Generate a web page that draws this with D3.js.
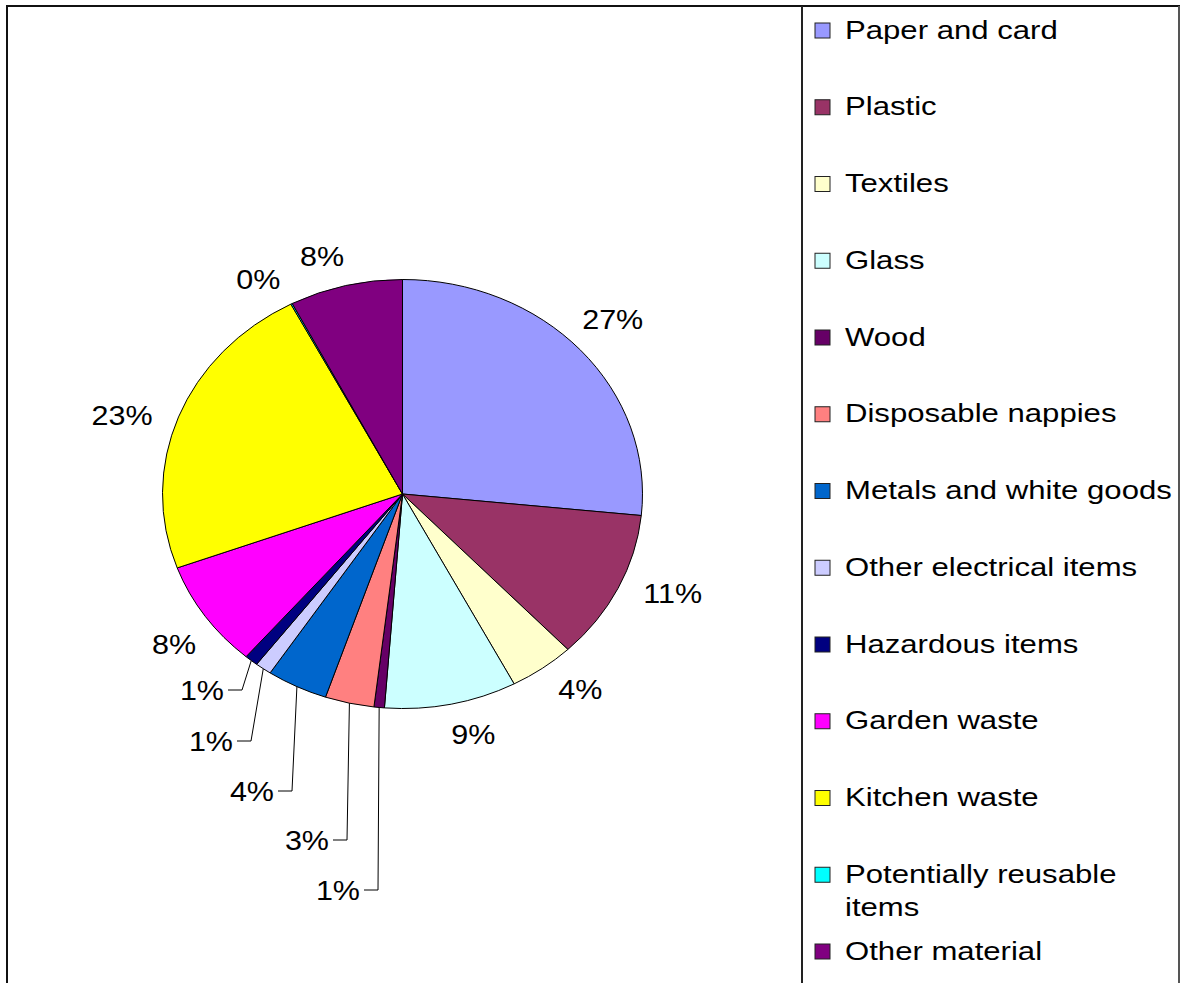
<!DOCTYPE html>
<html>
<head>
<meta charset="utf-8">
<script src="https://cdn.jsdelivr.net/npm/d3@7"></script>
<style>
  html, body { margin: 0; padding: 0; background: #fff; }
  svg { display: block; }
  text { font-family: "Liberation Sans", Arial, Helvetica, sans-serif; fill: #000; }
</style>
</head>
<body>
<svg id="chart" width="1187" height="983"></svg>
<script>
// Household waste composition (share of total, %)
const categories = [
  "Paper and card", "Plastic", "Textiles", "Glass", "Wood",
  "Disposable nappies", "Metals and white goods", "Other electrical items",
  "Hazardous items", "Garden waste", "Kitchen waste",
  "Potentially reusable items", "Other material"
];
const shares = [26.6, 11.3, 4.4, 8.9, 0.7, 3.3, 4.1, 1.1, 0.9, 8.1, 22.9, 0.1, 7.6];
const colours = [
  "#9999FF", "#993366", "#FFFFCC", "#CCFFFF", "#660066",
  "#FF8080", "#0066CC", "#CCCCFF", "#000080", "#FF00FF",
  "#FFFF00", "#00FFFF", "#800080"
];

// Small slices whose labels sit below the pie on leader lines:
// slice index -> elbow x and label row y
const leaderLayout = new Map([
  [4, { elbowX: 378, rowY: 890 }],
  [5, { elbowX: 347, rowY: 840 }],
  [6, { elbowX: 292, rowY: 791 }],
  [7, { elbowX: 251, rowY: 741 }],
  [8, { elbowX: 242, rowY: 690 }]
]);

const W = 1187, H = 983;
const svg = d3.select("#chart");
svg.append("rect").attr("width", W).attr("height", H).attr("fill", "#fff");

// Chart frame and legend divider
const frameL = 7, frameT = 6, frameR = 1179, divX = 802;
svg.append("line").attr("x1", frameL - 1).attr("x2", frameR + 1).attr("y1", frameT).attr("y2", frameT)
  .attr("stroke", "#111").attr("stroke-width", 2);
svg.append("line").attr("x1", frameL).attr("x2", frameL).attr("y1", frameT).attr("y2", H)
  .attr("stroke", "#111").attr("stroke-width", 2);
svg.append("line").attr("x1", frameR).attr("x2", frameR).attr("y1", frameT).attr("y2", H)
  .attr("stroke", "#555").attr("stroke-width", 2);
svg.append("line").attr("x1", divX).attr("x2", divX).attr("y1", frameT).attr("y2", H)
  .attr("stroke", "#222").attr("stroke-width", 2);

// Pie drawn as a circle then stretched horizontally into an ellipse
const cx = 402.5, cy = 494, ry = 214.5, rx = 240;
const sx = rx / ry;
const total = d3.sum(shares);
const data = categories.map((c, i) => ({ name: c, value: shares[i], colour: colours[i], index: i }));
const arcs = d3.pie().sort(null).value(d => d.value)(data);
const arc = d3.arc().innerRadius(0).outerRadius(ry);

const pieG = svg.append("g").attr("transform", `translate(${cx},${cy}) scale(${sx},1)`);
pieG.selectAll("path").data(arcs).join("path")
  .attr("d", arc)
  .attr("fill", d => d.data.colour)
  .attr("stroke", "#000")
  .attr("stroke-width", 1)
  .attr("stroke-linejoin", "round")
  .attr("vector-effect", "non-scaling-stroke");

// Percentage labels: the label box touches a point just outside the rim
const pct = d3.format(".0%");
const labelFont = 27.5, labelStretch = 1.11;
const labelR = 237, labelTurn = -0.045, boxH = 22;
const ellipsePoint = (ang, r) => [cx + r * sx * Math.sin(ang), cy - r * Math.cos(ang)];

const labelG = svg.append("g");
arcs.forEach(a => {
  const mid = (a.startAngle + a.endAngle) / 2;
  const txt = pct(a.data.value / total);
  const lay = leaderLayout.get(a.data.index);
  if (lay) {
    const [px, py] = ellipsePoint(mid, ry);
    labelG.append("polyline")
      .attr("points", [[px, py], [lay.elbowX, lay.rowY], [lay.elbowX - 14, lay.rowY]].map(p => p.join(",")).join(" "))
      .attr("fill", "none").attr("stroke", "#000").attr("stroke-width", 1);
    labelG.append("text")
      .attr("transform", `translate(${lay.elbowX - 18},${lay.rowY + labelFont * 0.36}) scale(${labelStretch},1)`)
      .attr("text-anchor", "end")
      .attr("font-size", labelFont)
      .text(txt);
  } else {
    const ang = mid + labelTurn;
    const [ax, ay] = ellipsePoint(ang, labelR);
    const t = labelG.append("text")
      .attr("text-anchor", "middle")
      .attr("font-size", labelFont)
      .text(txt);
    const w = t.node().getComputedTextLength() * labelStretch;
    const lx = ax + (w / 2) * Math.sin(ang);
    const ly = ay - (boxH / 2) * Math.cos(ang);
    t.attr("transform", `translate(${lx},${ly + labelFont * 0.36}) scale(${labelStretch},1)`);
  }
});

// Legend
const legendFont = 25.5, legendStretch = 1.22;
const legX = 815, legTop = 30.5, legStep = 76.75, sw = 15, textX = 845, maxTextW = 336, lineH = 33;
const legG = svg.append("g");
data.forEach((d, i) => {
  const y = legTop + i * legStep;
  legG.append("rect")
    .attr("x", legX).attr("y", y - sw / 2).attr("width", sw).attr("height", sw)
    .attr("fill", d.colour).attr("stroke", "#222").attr("stroke-width", 1);
  const t = legG.append("text")
    .attr("transform", `translate(${textX},${y + 8}) scale(${legendStretch},1)`)
    .attr("font-size", legendFont);
  // wrap long entries onto further lines
  const words = d.name.split(" ");
  let line = [], lineNo = 0;
  let tspan = t.append("tspan").attr("x", 0).attr("y", 0);
  words.forEach(w => {
    line.push(w);
    tspan.text(line.join(" "));
    if (tspan.node().getComputedTextLength() * legendStretch > maxTextW && line.length > 1) {
      line.pop();
      tspan.text(line.join(" "));
      line = [w];
      lineNo++;
      tspan = t.append("tspan").attr("x", 0).attr("y", lineNo * lineH).text(w);
    }
  });
});
</script>
</body>
</html>
